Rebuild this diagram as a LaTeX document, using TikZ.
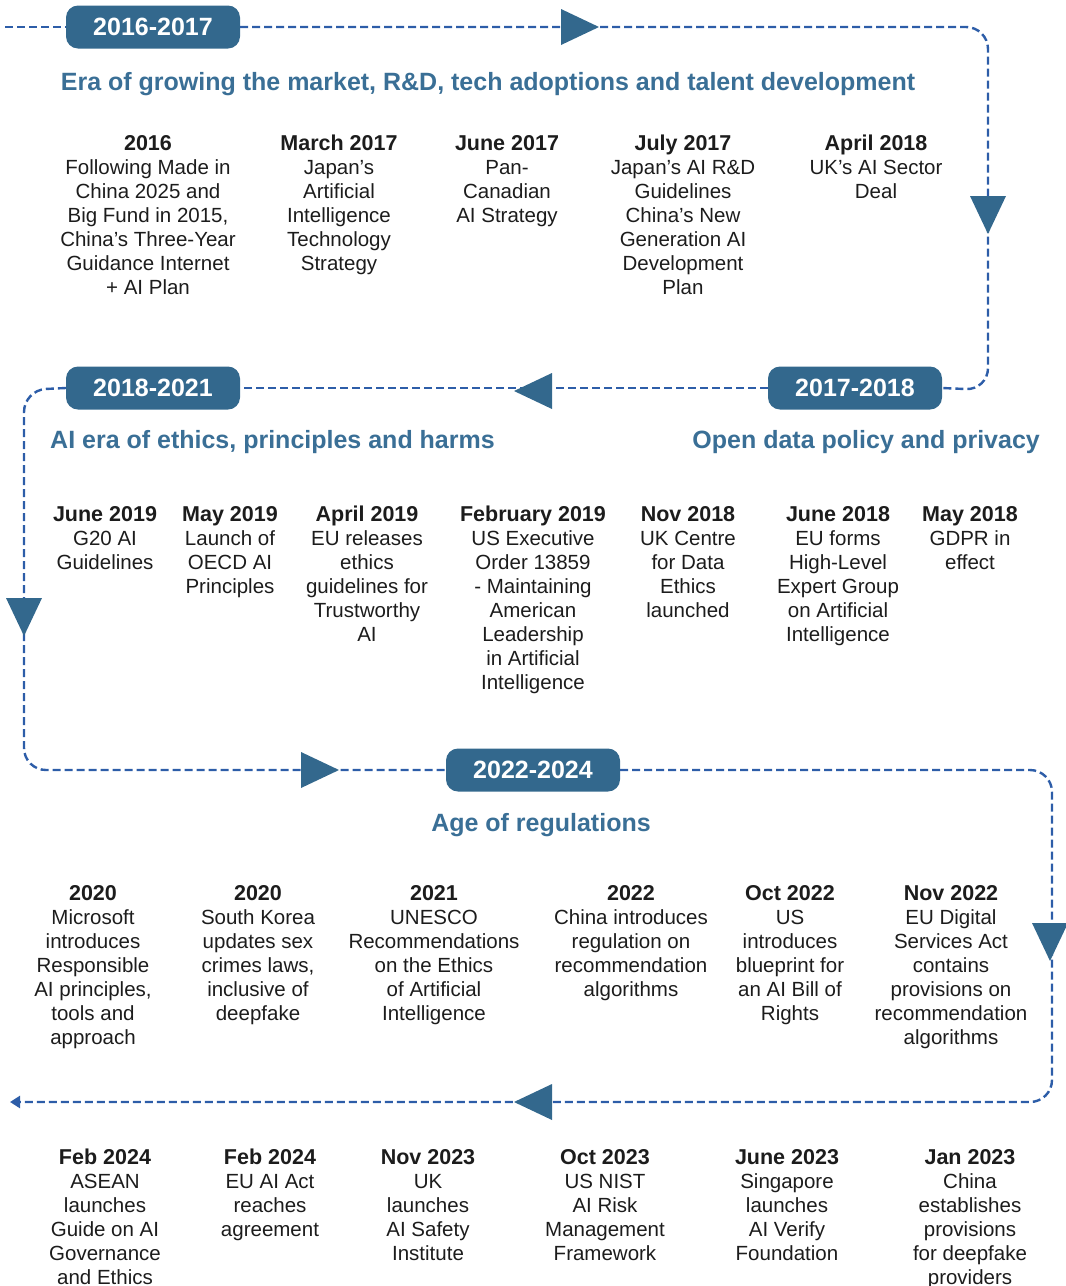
\documentclass[tikz,border=0pt]{standalone}
\usepackage{fontspec}
\setmainfont{Liberation Sans}
\usepackage{tikz}
\usetikzlibrary{positioning, arrows.meta, shapes}

\definecolor{pillblue}{RGB}{51,104,141}
\definecolor{flowblue}{RGB}{45,93,168}
\definecolor{headblue}{RGB}{58,111,150}
\definecolor{txt}{RGB}{28,28,28}

\tikzset{
  pill/.style={draw=none, fill=pillblue, rounded corners=12pt, minimum width=174pt, minimum height=43pt,
    text=white, font=\bfseries\fontsize{25}{28}\selectfont, inner sep=0pt},
  flow/.style={draw=flowblue, line width=2.4pt, dash pattern=on 8pt off 4pt, rounded corners=22pt},
  heading/.style={text=headblue, font=\bfseries\fontsize{25}{28}\selectfont, inner sep=0pt, anchor=base},
  ev/.style={align=center, anchor=north, inner sep=0pt, text=txt, font=\fontsize{20.5}{24}\selectfont},
  tri/.pic={\fill[pillblue] (-19,-18) -- (19,0) -- (-19,18) -- cycle;}
}
\newcommand{\when}[1]{{\bfseries\fontsize{21.5}{24}\selectfont #1}}

\begin{document}
\begin{tikzpicture}[x=1pt, y=-1pt]
\useasboundingbox (0,0) rectangle (1066,1286);

% era pills
\node[pill] (p1) at (153,27) {2016-2017};
\node[pill] (p2) at (855,388) {2017-2018};
\node[pill] (p3) at (153,388) {2018-2021};
\node[pill] (p4) at (533,770) {2022-2024};
\coordinate (start) at (5,27);
\coordinate (finish) at (10,1102);

% the dashed track
\draw[flow] (start) -- (p1.west);
\draw[flow] (p1.east) -- (988,27) -- (988,390) -- (p2.east);
\draw[flow] (p2.west) -- (p3.east);
\draw[flow] (p3.west) -- (24,390) -- (24,770) -- (p4.west);
\draw[flow, -{Triangle[length=10pt,width=12pt]}] (p4.east) -- (1052,770) -- (1052,1102) -- (finish);

% triangles on the track
\pic at (580,27) {tri};
\pic[rotate=-90] at (988,215) {tri};
\pic[rotate=180] at (533,391) {tri};
\pic[rotate=-90] at (24,617) {tri};
\pic at (320,770) {tri};
\pic[rotate=-90] at (1050,942) {tri};
\pic[rotate=180] at (533,1102) {tri};

% era headings
\node[heading] (h1) at (488,90) {Era of growing the market, R\&D, tech adoptions and talent development};
\node[heading, anchor=base west] (h2) at (50,448) {AI era of ethics, principles and harms};
\node[heading, anchor=base east] (h3) at (1040,448) {Open data policy and privacy};
\node[heading] (h4) at (541,831) {Age of regulations};

% 2016-2017
\node[ev] (a1) at (148,135) {\when{2016}\\Following Made in\\China 2025 and\\Big Fund in 2015,\\China’s Three-Year\\Guidance Internet\\+ AI Plan};
\node[ev] (a2) at (339,135) {\when{March 2017}\\Japan’s\\Artificial\\Intelligence\\Technology\\Strategy};
\node[ev] (a3) at (507,135) {\when{June 2017}\\Pan-\\Canadian\\AI Strategy};
\node[ev] (a4) at (683,135) {\when{July 2017}\\Japan’s AI R\&D\\Guidelines\\China’s New\\Generation AI\\Development\\Plan};
\node[ev] (a5) at (876,135) {\when{April 2018}\\UK’s AI Sector\\Deal};

% 2018-2021
\node[ev] (b1) at (105,506) {\when{June 2019}\\G20 AI\\Guidelines};
\node[ev] (b2) at (230,506) {\when{May 2019}\\Launch of\\OECD AI\\Principles};
\node[ev] (b3) at (367,506) {\when{April 2019}\\EU releases\\ethics\\guidelines for\\Trustworthy\\AI};
\node[ev] (b4) at (533,506) {\when{February 2019}\\US Executive\\Order 13859\\- Maintaining\\American\\Leadership\\in Artificial\\Intelligence};
\node[ev] (b5) at (688,506) {\when{Nov 2018}\\UK Centre\\for Data\\Ethics\\launched};
\node[ev] (b6) at (838,506) {\when{June 2018}\\EU forms\\High-Level\\Expert Group\\on Artificial\\Intelligence};
\node[ev] (b7) at (970,506) {\when{May 2018}\\GDPR in\\effect};

% 2022-2024
\node[ev] (c1) at (93,885) {\when{2020}\\Microsoft\\introduces\\Responsible\\AI principles,\\tools and\\approach};
\node[ev] (c2) at (258,885) {\when{2020}\\South Korea\\updates sex\\crimes laws,\\inclusive of\\deepfake};
\node[ev] (c3) at (434,885) {\when{2021}\\UNESCO\\Recommendations\\on the Ethics\\of Artificial\\Intelligence};
\node[ev] (c4) at (631,885) {\when{2022}\\China introduces\\regulation on\\recommendation\\algorithms};
\node[ev] (c5) at (790,885) {\when{Oct 2022}\\US\\introduces\\blueprint for\\an AI Bill of\\Rights};
\node[ev] (c6) at (951,885) {\when{Nov 2022}\\EU Digital\\Services Act\\contains\\provisions on\\recommendation\\algorithms};

% latest
\node[ev] (d1) at (105,1149) {\when{Feb 2024}\\ASEAN\\launches\\Guide on AI\\Governance\\and Ethics};
\node[ev] (d2) at (270,1149) {\when{Feb 2024}\\EU AI Act\\reaches\\agreement};
\node[ev] (d3) at (428,1149) {\when{Nov 2023}\\UK\\launches\\AI Safety\\Institute};
\node[ev] (d4) at (605,1149) {\when{Oct 2023}\\US NIST\\AI Risk\\Management\\Framework};
\node[ev] (d5) at (787,1149) {\when{June 2023}\\Singapore\\launches\\AI Verify\\Foundation};
\node[ev] (d6) at (970,1149) {\when{Jan 2023}\\China\\establishes\\provisions\\for deepfake\\providers};
\end{tikzpicture}
\end{document}
